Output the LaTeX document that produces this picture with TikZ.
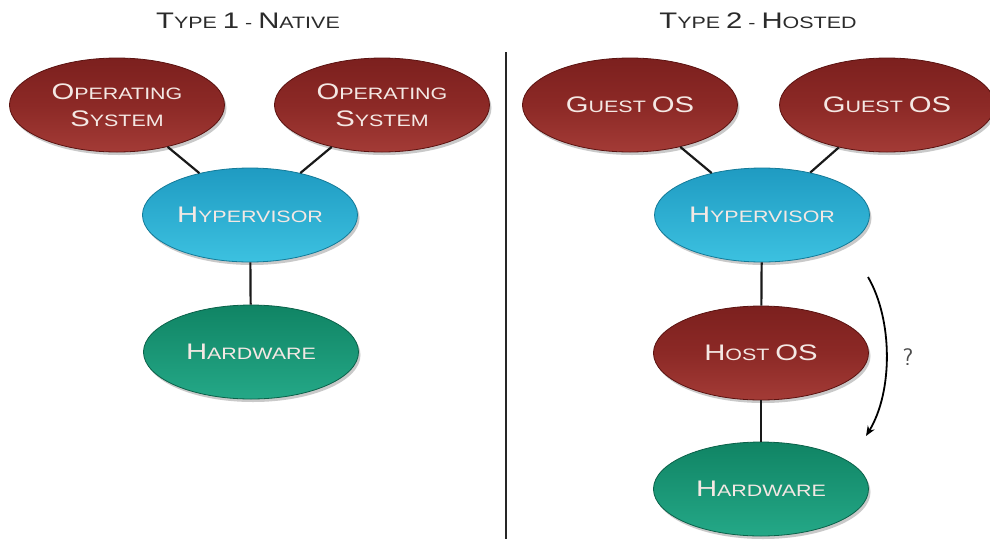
\documentclass[tikz,border=0pt]{standalone}
\usepackage{fontspec}
\newfontfamily\cop[FakeStretch=1.3]{Liberation Sans}
\usetikzlibrary{shapes.geometric,shadows,arrows.meta}
\def\bsz{22.5}\def\ssz{16.5}
\newcommand\SC[2]{{\fontsize{\bsz pt}{\bsz pt}\selectfont #1}{\fontsize{\ssz pt}{\ssz pt}\selectfont #2}}
\newcommand\SP{{\fontsize{\ssz pt}{\ssz pt}\selectfont\ }}
\definecolor{redA}{HTML}{7C201E}
\definecolor{redM}{HTML}{8C2926}
\definecolor{redB}{HTML}{A33B36}
\definecolor{redE}{HTML}{5A1210}
\definecolor{bluA}{HTML}{1F9BC2}
\definecolor{bluB}{HTML}{3CC1E0}
\definecolor{bluE}{HTML}{137A98}
\definecolor{grnA}{HTML}{108464}
\definecolor{grnB}{HTML}{24A887}
\definecolor{grnE}{HTML}{0A6149}
\definecolor{txtL}{HTML}{F4E8E4}
\definecolor{ttl}{HTML}{2B2B2B}
\tikzset{
  oval/.style={ellipse, minimum width=215pt, minimum height=94pt, inner sep=0pt,
    align=center, text=txtL, font=\cop, line width=0.8pt,
    drop shadow={shadow xshift=2pt, shadow yshift=-3pt, opacity=0.35, fill=black!60}},
  redov/.style={oval, draw=redE, top color=redA, bottom color=redB, middle color=redM},
  bluov/.style={oval, draw=bluE, top color=bluA, bottom color=bluB},
  grnov/.style={oval, draw=grnE, top color=grnA, bottom color=grnB},
  ttlnode/.style={text=ttl, font=\cop},
  link/.style={line width=2.2pt, black!90},
}
\begin{document}
\begin{tikzpicture}[x=1pt,y=-1pt]
\useasboundingbox[fill=white] (0,0) rectangle (990,539);
% titles
\node[ttlnode] (t1) at (248,21) {\SC{T}{YPE}\SP\SC{1}{}\SP\SC{}{-}\SP\SC{N}{ATIVE}};
\node[ttlnode] (t2) at (758,21) {\SC{T}{YPE}\SP\SC{2}{}\SP\SC{}{-}\SP\SC{H}{OSTED}};
% divider
\coordinate (dtop) at (506,52);
\coordinate (dbot) at (506,539);
\draw[line width=1.6pt, black!85] (dtop) -- (dbot);
% left side
\node[redov] (osl) at (117,105) {\SC{O}{PERATING}\\[10pt]\SC{S}{YSTEM}};
\node[redov] (osr) at (382,105) {\SC{O}{PERATING}\\[10pt]\SC{S}{YSTEM}};
\node[bluov] (hyp1) at (250,215) {\SC{H}{YPERVISOR}};
\node[grnov] (hw1) at (251,352) {\SC{H}{ARDWARE}};
% right side
\node[redov] (gl) at (630,105) {\SC{G}{UEST}\SP\SC{OS}{}};
\node[redov] (gr) at (887,105) {\SC{G}{UEST}\SP\SC{OS}{}};
\node[bluov] (hyp2) at (762,215) {\SC{H}{YPERVISOR}};
\node[redov] (host) at (761,353) {\SC{H}{OST}\SP\SC{OS}{}};
\node[grnov] (hw2) at (761,489) {\SC{H}{ARDWARE}};
% connectors
\draw[link] (osl) -- (hyp1);
\draw[link] (osr) -- (hyp1);
\draw[link] (hyp1) -- (hw1);
\draw[link] (gl) -- (hyp2);
\draw[link] (gr) -- (hyp2);
\draw[link] (hyp2) -- (host);
\draw[link] (host) -- (hw2);
% curved arrow
\coordinate (as) at (868,277);
\coordinate (ae) at (866,436);
\draw[line width=1.8pt, black, -{Stealth[length=10pt,width=8pt]}] (as) .. controls (893,320) and (893,392) .. (ae);
\node[text=black!70, font=\sffamily\fontsize{24}{24}\selectfont] (q) at (908,357) {?};
\end{tikzpicture}
\end{document}
